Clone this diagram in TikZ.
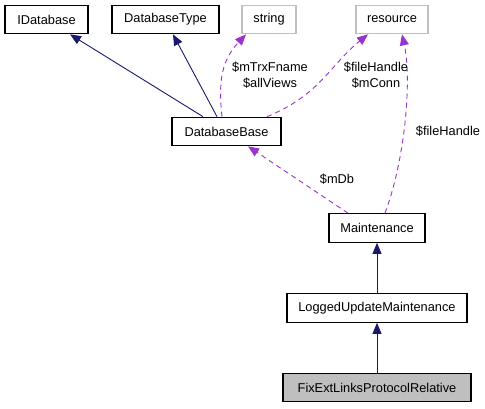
\documentclass[tikz,border=0pt]{standalone}
\usepackage{fontspec}
\setmainfont{Liberation Sans}
\usetikzlibrary{arrows.meta}
\definecolor{navy}{HTML}{191970}
\definecolor{orchid}{HTML}{9A32CD}
\definecolor{lgray}{HTML}{BFBFBF}
\begin{document}
\begin{tikzpicture}[x=1pt,y=-1pt,
  every node/.style={font=\fontsize{12.8}{15.4}\selectfont},
  cls/.style={draw=black,line width=1.2pt,fill=white,inner sep=0pt,minimum height=28.5pt},
  ext/.style={cls,draw=lgray},
  cur/.style={cls,fill=lgray},
  inh/.style={draw=navy,line width=0.9pt,-{Triangle[length=11pt,width=9pt]}},
  use/.style={draw=orchid,line width=0.9pt,dash pattern=on 5pt off 4pt,-{Triangle[length=11pt,width=9pt]}},
  lbl/.style={align=center,inner sep=0pt,font=\fontsize{12.8}{16.5}\selectfont}]
\useasboundingbox (0,0) rectangle (485,408);
\node[cls,minimum width=83pt] (idb) at (46.5,19.5) {IDatabase};
\node[cls,minimum width=107pt] (dbt) at (165.5,19.5) {DatabaseType};
\node[ext,minimum width=54pt] (str) at (269,19.5) {string};
\node[ext,minimum width=72pt] (res) at (392,19.5) {resource};
\node[cls,minimum width=109pt] (dbb) at (226.5,131.5) {DatabaseBase};
\node[cls,minimum width=96pt] (mnt) at (377,228) {Maintenance};
\node[cls,minimum width=180pt] (lum) at (377,308) {LoggedUpdateMaintenance};
\node[cur,minimum width=188pt] (fix) at (377,387.5) {FixExtLinksProtocolRelative};
% inheritance
\draw[inh] ([xshift=-23.5pt]dbb.north) -- ([xshift=23.5pt]idb.south);
\draw[inh] ([xshift=-9.5pt]dbb.north) -- ([xshift=7.5pt]dbt.south);
\draw[inh] (lum.north) -- (mnt.south);
\draw[inh] (fix.north) -- (lum.south);
% usage
\draw[use] ([xshift=-4.5pt]dbb.north) .. controls (218,80) and (222,60) .. ([xshift=-23pt]str.south);
\draw[use] ([xshift=40.5pt]dbb.north) .. controls (320,95) and (330,65) .. ([xshift=-24pt]res.south);
\draw[use] ([xshift=8pt]mnt.north) .. controls (405,160) and (412,80) .. ([xshift=10pt]res.south);
\draw[use] ([xshift=-29pt]mnt.north) -- ([xshift=21.5pt]dbb.south);
% labels
\node[lbl] (l1) at (270,75) {\$mTrxFname\\\$allViews};
\node[lbl] (l2) at (376,75) {\$fileHandle\\\$mConn};
\node[lbl] (l3) at (448,131) {\$fileHandle};
\node[lbl] (l4) at (337,179) {\$mDb};
\end{tikzpicture}
\end{document}
